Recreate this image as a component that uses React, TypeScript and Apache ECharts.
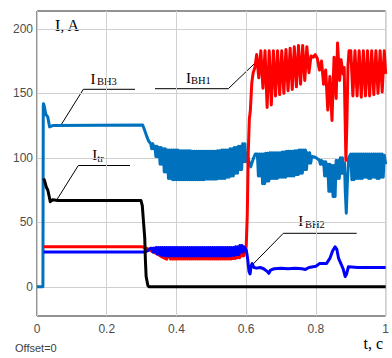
import React, { useEffect, useRef } from "react";
import * as echarts from "echarts";

// Axis ticks
const yTickValues = [0, 50, 100, 150, 200];

// rows of an oscillating band are [t, high, low], one row per 0.012 s
const ROW_STEP = 0.012;

// ---- I_BH3 (light blue) ----
const ibh3Lead = [
  [0, 0], [0.017, 0], [0.018, 140], [0.0185, 142], [0.021, 140], [0.025, 134], [0.031, 131.5],
  [0.036, 124], [0.045, 125], [0.303, 125.5], [0.308, 122], [0.313, 118], [0.32, 113],
];
const ibh3Band1 = [
  [0.326, 111, 107], [0.338, 109, 101], [0.35, 108, 95], [0.362, 107, 89], [0.374, 106, 84],
  [0.386, 106, 83], [0.398, 106, 83], [0.41, 105.5, 83], [0.422, 105.5, 83], [0.434, 105.5, 83],
  [0.446, 105, 83], [0.458, 105, 83], [0.47, 105, 83], [0.482, 105, 83.5], [0.494, 105, 83.5],
  [0.506, 105, 83.5], [0.518, 105.5, 84], [0.53, 106, 84], [0.542, 106, 85], [0.554, 107, 86],
  [0.566, 108, 88], [0.578, 109, 91], [0.59, 111, 97],
];
const ibh3Mid1 = [[0.6, 104], [0.606, 99], [0.613, 93], [0.62, 99], [0.626, 103]];
const ibh3Band2 = [
  [0.632, 103, 86], [0.644, 103, 80], [0.656, 103.5, 82], [0.668, 104, 84], [0.68, 104, 84],
  [0.692, 104, 85], [0.704, 104.5, 85], [0.716, 105, 86], [0.728, 105, 86], [0.74, 105.5, 87],
  [0.752, 106, 88], [0.764, 106, 91], [0.776, 104, 96],
];
const ibh3Mid2 = [[0.788, 101], [0.798, 100.5], [0.806, 99]];
const ibh3Band3 = [
  [0.81, 98, 95], [0.822, 97, 86], [0.834, 95, 74], [0.846, 94, 70], [0.858, 98, 84], [0.87, 100, 88],
];
const ibh3Mid3 = [[0.882, 96], [0.884, 75], [0.887, 57], [0.89, 80], [0.894, 100]];
const ibh3Band4 = [
  [0.9, 103, 83], [0.912, 103, 84], [0.924, 103, 84], [0.936, 103, 85], [0.948, 103, 84],
  [0.96, 103, 85], [0.972, 103, 84], [0.984, 103, 85],
];
const ibh3Tail = [[0.996, 102], [1.0, 95]];

// ---- I_BH1 (red) ----
const ibh1Lead = [
  [0.019, 31], [0.3, 31], [0.31, 30.5], [0.32, 29], [0.33, 27.5], [0.345, 25.5], [0.36, 23], [0.372, 21.5],
];
const ibh1Band1 = [
  [0.38, 26, 21.5], [0.392, 26, 21.5], [0.404, 26, 21.5], [0.416, 26, 21.5], [0.428, 26, 21.5],
  [0.44, 26, 21.5], [0.452, 26, 21.5], [0.464, 26, 21.5], [0.476, 26, 21.5], [0.488, 26, 21.5],
  [0.5, 26, 21.5], [0.512, 26, 21.5], [0.524, 26, 21.5], [0.536, 26, 21.5], [0.548, 26, 21.5],
  [0.56, 26.5, 22], [0.572, 27, 22.5], [0.584, 28.5, 24],
];
const ibh1Mid1 = [
  [0.596, 30], [0.6, 31], [0.603, 55], [0.606, 105], [0.609, 130], [0.612, 137], [0.616, 158],
  [0.62, 166], [0.625, 170],
];
const ibh1Band2 = [
  [0.63, 180, 162], [0.642, 183, 154], [0.654, 183, 139], [0.666, 183, 141], [0.678, 183, 148],
  [0.69, 183, 149], [0.702, 183, 150], [0.714, 184, 152], [0.726, 185, 153], [0.738, 186, 155],
  [0.75, 187, 157], [0.762, 187, 160], [0.774, 186, 166],
];
const ibh1Mid2 = [[0.786, 179], [0.792, 178], [0.798, 180]];
const ibh1Band3 = [
  [0.804, 177, 168], [0.816, 175, 157], [0.828, 168, 137], [0.84, 163, 129], [0.852, 178, 146],
  [0.862, 189, 160], [0.872, 176, 165],
];
const ibh1Mid3 = [[0.881, 170], [0.883, 140], [0.886, 98], [0.889, 130], [0.892, 172], [0.895, 183]];
const ibh1Band4 = [
  [0.9, 183, 148], [0.912, 183, 148], [0.924, 183, 147], [0.936, 183, 148], [0.948, 183, 148],
  [0.96, 183, 149], [0.972, 183, 150], [0.984, 183, 151],
];
const ibh1Tail = [[0.996, 183], [1.0, 165]];

// ---- I_BH2 (blue) ----
const ibh2Lead = [[0.019, 27], [0.31, 27], [0.318, 28], [0.326, 30]];
const ibh2Band1 = [
  [0.33, 30, 27], [0.342, 30.5, 25.5], [0.354, 30.5, 24.5], [0.366, 30.5, 24], [0.378, 30.5, 24],
  [0.39, 30.5, 24], [0.402, 30.5, 24], [0.414, 30.5, 24], [0.426, 30.5, 24], [0.438, 30.5, 24],
  [0.45, 30.5, 24], [0.462, 30.5, 24], [0.474, 30.5, 24], [0.486, 30.5, 24], [0.498, 30.5, 24],
  [0.51, 30.5, 24], [0.522, 30.5, 24], [0.534, 30.5, 24], [0.546, 30.5, 24], [0.558, 30.5, 24.5],
  [0.57, 31, 25], [0.582, 32, 27],
];
const ibh2Tail = [
  [0.594, 31], [0.6, 29], [0.604, 22], [0.608, 12], [0.611, 10], [0.614, 16], [0.617, 18], [0.622, 15],
  [0.63, 14.5], [0.64, 15], [0.65, 14], [0.66, 12], [0.665, 10.5], [0.67, 13], [0.68, 14], [0.7, 14.5],
  [0.72, 14], [0.74, 14.5], [0.76, 14], [0.77, 13.5], [0.78, 15], [0.8, 16], [0.81, 18], [0.83, 18],
  [0.84, 22], [0.848, 28], [0.855, 31], [0.86, 29], [0.865, 22], [0.87, 19], [0.878, 14], [0.884, 8],
  [0.888, 10], [0.893, 15.5], [0.92, 15], [0.95, 15], [0.98, 15], [1.0, 15],
];

// ---- I_tr (black) ----
const itr = [
  [0.019, 84], [0.022, 82], [0.027, 77], [0.031, 75], [0.035, 70], [0.038, 66], [0.045, 67.5],
  [0.06, 67], [0.298, 67], [0.302, 63], [0.305, 52], [0.309, 38], [0.311, 20], [0.313, 8],
  [0.318, 1], [0.322, 0], [1.0, 0],
];

// each band row becomes `cycles` oscillations between its high and its low value
const zig = (rows: number[][], cycles: number) => {
  const h = ROW_STEP / (2 * cycles);
  return rows.flatMap(([t, hi, lo]) => {
    const out: number[][] = [];
    for (let k = 0; k < cycles; k++) {
      out.push([t + 2 * k * h, hi], [t + (2 * k + 1) * h, lo]);
    }
    return out;
  });
};

const seriesBH3 = [
  ...ibh3Lead, ...zig(ibh3Band1, 2), ...ibh3Mid1, ...zig(ibh3Band2, 2), ...ibh3Mid2,
  ...zig(ibh3Band3, 2), ...ibh3Mid3, ...zig(ibh3Band4, 2), ...ibh3Tail,
];
const seriesBH1 = [
  ...ibh1Lead, ...zig(ibh1Band1, 2), ...ibh1Mid1, ...zig(ibh1Band2, 1), ...ibh1Mid2,
  ...zig(ibh1Band3, 1), ...ibh1Mid3, ...zig(ibh1Band4, 1), ...ibh1Tail,
];
const seriesBH2 = [...ibh2Lead, ...zig(ibh2Band1, 2), ...ibh2Tail];

const SERIF = '"Liberation Serif", "Times New Roman", serif';
const SANS = '"Liberation Sans", Arial, sans-serif';

function label(x: number, y: number, text: string, size: number, family = SERIF, fill = "#000", lh = size) {
  return {
    type: "text",
    x,
    y,
    silent: true,
    style: { text, fill, fontSize: size, fontFamily: family, verticalAlign: "middle", align: "left", lineHeight: lh },
  };
}
function seg(x1: number, y1: number, x2: number, y2: number) {
  return {
    type: "line",
    silent: true,
    shape: { x1, y1, x2, y2 },
    style: { stroke: "#000", lineWidth: 1 },
  };
}

export default function App() {
  const ref = useRef<HTMLDivElement>(null);
  useEffect(() => {
    document.body.style.margin = "0";
    if (!ref.current) return;
    const chart = echarts.init(ref.current, null, { renderer: "svg" });
    const line = (data: number[][], color: string, width: number) => ({
      type: "line",
      data,
      showSymbol: false,
      symbol: "none",
      lineStyle: { color, width, join: "round" },
      itemStyle: { color },
      z: 2,
    });
    chart.setOption({
      animation: false,
      backgroundColor: "#fff",
      grid: {
        left: 37,
        right: 5,
        top: 11,
        bottom: 42,
        show: true,
        borderColor: "#262626",
        borderWidth: 1,
        backgroundColor: "#fff",
      },
      xAxis: {
        type: "value",
        min: 0,
        max: 1,
        interval: 0.2,
        axisLine: { show: false },
        axisTick: { show: false },
        splitLine: { show: true, lineStyle: { color: "#d0d0d0", width: 1 } },
        axisLabel: {
          color: "#4d4d4d",
          fontSize: 12,
          lineHeight: 10,
          fontFamily: SANS,
          margin: 8,
          formatter: (v: number) => String(Math.round(v * 10) / 10),
        },
      },
      yAxis: {
        type: "value",
        min: -22.6,
        max: 213.8,
        axisLine: { show: false },
        axisTick: { show: false, customValues: yTickValues },
        splitLine: { show: true, lineStyle: { color: "#d0d0d0", width: 1 } },
        axisLabel: {
          customValues: yTickValues,
          color: "#4d4d4d",
          fontSize: 12,
          fontFamily: SANS,
          margin: 4,
        },
      },
      series: [
        line(seriesBH3, "#0072BD", 3),
        line(seriesBH1, "#FF0000", 3),
        line(seriesBH2, "#0000FF", 3),
        line(itr, "#000000", 3),
      ],
      graphic: [
        label(55, 25.7, "I, A", 16),
        label(363.5, 343, "t, c", 16, SERIF, "#000", 13),
        label(15, 347.5, "Offset=0", 11, SANS, "#404040"),
        // I_BH3
        label(90.5, 78.7, "I", 15),
        label(97, 81.2, "BH3", 10.5),
        seg(83.3, 89.3, 135, 89.3),
        seg(83.3, 89.3, 61, 125),
        // I_BH1
        label(186, 77.5, "I", 15),
        label(191, 80.3, "BH1", 10.5),
        seg(155, 88.7, 228.3, 88.7),
        seg(228.3, 88.7, 261.7, 56.7),
        // I_tr
        label(92.3, 154.5, "I", 15),
        label(97.3, 158, "tr", 10.5),
        seg(78.3, 165.5, 130, 165.5),
        seg(78.3, 165.5, 56.7, 200),
        // I_BH2
        label(298.3, 221, "I", 15),
        label(305, 224.5, "BH2", 10.5),
        seg(283.3, 233.3, 356.7, 233.3),
        seg(283.3, 233.3, 251.7, 265.5),
      ],
    });
    return () => chart.dispose();
  }, []);
  return <div ref={ref} style={{ width: 392, height: 358 }} />;
}
